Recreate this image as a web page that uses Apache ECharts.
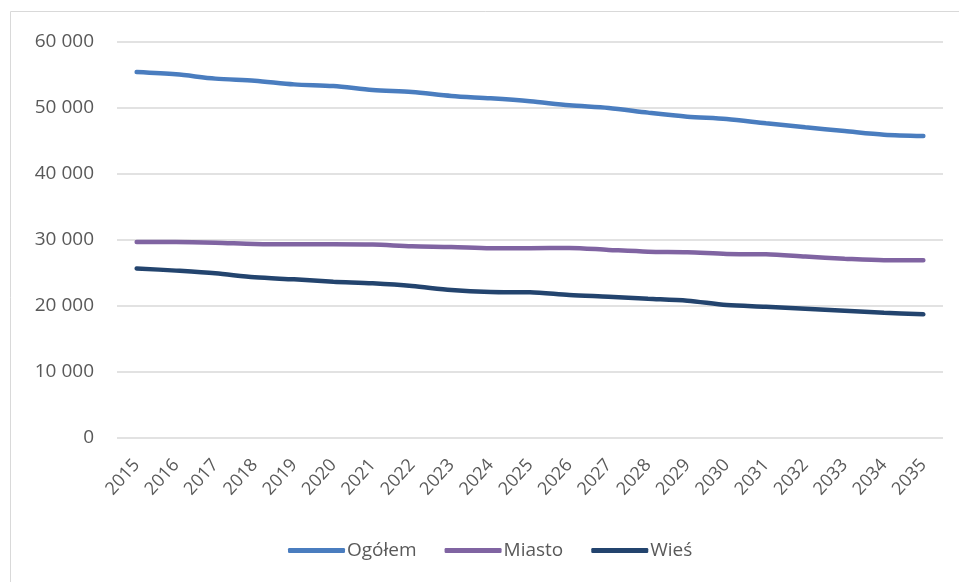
<!DOCTYPE html>
<html>
<head>
<meta charset="utf-8">
<script src="https://cdn.jsdelivr.net/npm/echarts@6/dist/echarts.min.js"></script>
<style>
  html, body { margin: 0; padding: 0; background: #fff; }
  #chart { width: 959px; height: 582px; }
</style>
</head>
<body>
<div id="chart"></div>
<script>
// lata prognozy
const years = ['2015', '2016', '2017', '2018', '2019', '2020', '2021', '2022', '2023', '2024', '2025',
    '2026', '2027', '2028', '2029', '2030', '2031', '2032', '2033', '2034', '2035'];

// wartości
const ogolem = [55450, 55100, 54450, 54140, 53580, 53330, 52730, 52420, 51820, 51460, 51010,
    50400, 50000, 49300, 48690, 48330, 47680, 47070, 46510, 45960, 45760];
const miasto = [29700, 29700, 29600, 29400, 29350, 29350, 29300, 29050, 28950, 28750, 28740,
    28800, 28500, 28230, 28150, 27880, 27830, 27500, 27170, 26950, 26950];
const wies = [25700, 25360, 24950, 24340, 24040, 23690, 23430, 23030, 22420, 22120, 22070,
    21670, 21410, 21110, 20810, 20150, 19900, 19600, 19290, 18990, 18740];

const yTicks = { min: 0, max: 60000, interval: 10000 };

const chart = echarts.init(document.getElementById('chart'));

const fmt = (v) => String(v).replace(/\B(?=(\d{3})+(?!\d))/g, ' ');

const mkSeries = (name, data, color) => ({
    name: name,
    type: 'line',
    data: data,
    smooth: 0.3,
    symbol: 'none',
    lineStyle: { width: 4.5, color: color, cap: 'round' },
    itemStyle: { color: color }
});

chart.setOption({
    animation: false,
    textStyle: { fontFamily: 'Open Sans, Liberation Sans, sans-serif' },
    graphic: [{
        type: 'rect',
        shape: { x: 10.5, y: 11.5, width: 2000, height: 2000 },
        style: { fill: 'none', stroke: '#d9d9d9', lineWidth: 1 },
        silent: true
    }],
    grid: { left: 117, right: 16, top: 42, bottom: 144 },
    legend: {
        top: 536,
        left: 283,
        icon: 'roundRect',
        itemWidth: 57,
        itemHeight: 5,
        itemGap: 28,
        textStyle: { color: '#595959', fontSize: 19, padding: [0, 0, 0, -3] },
        data: ['Ogółem', 'Miasto', 'Wieś']
    },
    xAxis: {
        type: 'category',
        data: years,
        boundaryGap: true,
        axisLine: { show: false },
        axisTick: { show: false },
        axisLabel: { rotate: 48, color: '#595959', fontSize: 18, margin: 24, interval: 0 }
    },
    yAxis: {
        type: 'value',
        min: yTicks.min,
        max: yTicks.max,
        interval: yTicks.interval,
        axisLine: { show: false },
        axisTick: { show: false },
        splitLine: { lineStyle: { color: '#d9d9d9', width: 1.5 } },
        axisLabel: { color: '#595959', fontSize: 19, margin: 23, formatter: fmt }
    },
    series: [
        mkSeries('Ogółem', ogolem, '#4a7dbf'),
        mkSeries('Miasto', miasto, '#8064a2'),
        mkSeries('Wieś', wies, '#23446e')
    ]
});
</script>
</body>
</html>
